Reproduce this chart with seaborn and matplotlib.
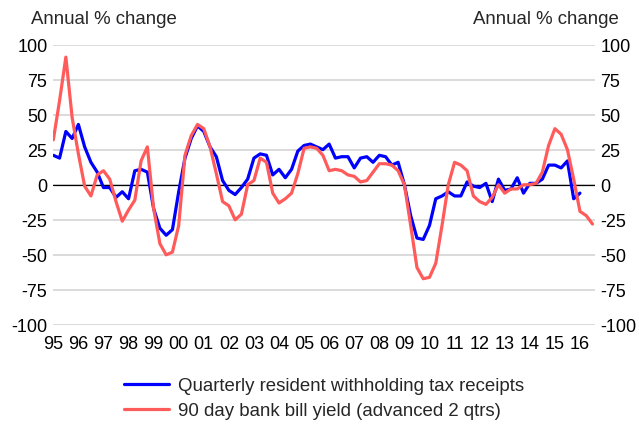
import matplotlib
matplotlib.use("Agg")
import matplotlib.pyplot as plt
import numpy as np
import pandas as pd
import seaborn as sns

# Quarterly series, starting 1995 Q1 (annual % change)
tax_receipts = [
    21, 19, 38, 33, 43, 27, 16, 9, -2, -2, -9, -5, -10, 10, 11, 9,
    -17, -31, -36, -32, -5, 19, 33, 42, 38, 27, 20, 3, -4, -7, -2, 4,
    19, 22, 21, 7, 11, 5, 11, 24, 28, 29, 27, 25, 29, 19, 20, 20,
    12, 19, 20, 16, 21, 20, 14, 16, 0, -22, -38, -39, -29, -10, -8, -5,
    -8, -8, 2, -1, -2, 1, -12, 4, -4, -3, 5, -6, 1, 1, 4, 14,
    14, 12, 17, -10, -6,
]
bank_bill = [
    32, 60, 91, 48, 22, -1, -8, 7, 10, 4, -12, -26, -18, -11, 17, 27,
    -17, -42, -50, -48, -29, 21, 35, 43, 40, 27, 8, -12, -15, -25, -21, 0,
    3, 19, 16, -6, -13, -10, -6, 8, 26, 27, 26, 21, 10, 11, 10, 7,
    6, 2, 3, 9, 15, 15, 14, 10, 0, -29, -59, -67, -66, -56, -29, 0,
    16, 14, 10, -8, -12, -14, -9, 0, -6, -3, -3, 0, 0, 1, 9, 28,
    40, 36, 25, 4, -19, -22, -28,
]
year_labels = ["95", "96", "97", "98", "99", "00", "01", "02", "03", "04", "05",
               "06", "07", "08", "09", "10", "11", "12", "13", "14", "15", "16"]
y_ticks = [-100, -75, -50, -25, 0, 25, 50, 75, 100]

names = ["Quarterly resident withholding tax receipts",
         "90 day bank bill yield (advanced 2 qtrs)"]
colors = ["#0000FF", "#FF5B5B"]

df = pd.concat([
    pd.DataFrame({"quarter": np.arange(len(tax_receipts)), "value": tax_receipts,
                  "series": names[0]}),
    pd.DataFrame({"quarter": np.arange(len(bank_bill)), "value": bank_bill,
                  "series": names[1]}),
], ignore_index=True)

sns.set_theme(style="white")
plt.rcParams["font.family"] = ["Liberation Sans", "DejaVu Sans"]

TICK_FS = 13
TEXT_FS = 13.4
W, H = 639, 427
fig = plt.figure(figsize=(W / 100, H / 100), dpi=100)
ax = fig.add_axes([53 / W, 1 - 326 / H, (595 - 53) / W, (326 - 45.5) / H])

ax.axhline(0, color="black", lw=0.9, zorder=1.5)
sns.lineplot(data=df, x="quarter", y="value", hue="series", hue_order=names,
             palette=colors, linewidth=2.3, ax=ax, legend=False, zorder=3)

ax.set_xlim(-0.05, 86.4)
ax.set_ylim(-100, 100)
ax.set_yticks(y_ticks)
ax.set_yticklabels([str(v) for v in y_ticks])
ax.set_xticks(np.arange(len(year_labels)) * 4)
ax.set_xticklabels(year_labels)
ax.yaxis.grid(True, color="#D4D4D4", lw=1.2)
ax.xaxis.grid(False)
for s in ax.spines.values():
    s.set_visible(False)
ax.set_xlabel("")
ax.set_ylabel("")
ax.tick_params(axis="y", which="both", length=0, left=False, right=False,
               labelleft=True, labelright=True, labelsize=TICK_FS, pad=4,
               colors="black")
ax.tick_params(axis="x", length=0, bottom=False, labelsize=TICK_FS, pad=7.5,
               colors="black")

fig.text(31 / W, 1 - 19 / H, "Annual % change", fontsize=TEXT_FS, ha="left",
         va="center")
fig.text(619 / W, 1 - 19 / H, "Annual % change", fontsize=TEXT_FS, ha="right",
         va="center")

handles = [plt.Line2D([], [], color=c, lw=2.3) for c in colors]
fig.legend(handles, names, loc="upper left",
           bbox_to_anchor=(124 / W, 1 - 378 / H), frameon=False,
           fontsize=TEXT_FS, borderpad=0, handlelength=2.4, handletextpad=0.5,
           labelspacing=0.45, borderaxespad=0)

fig.savefig("out.png", dpi=100)
